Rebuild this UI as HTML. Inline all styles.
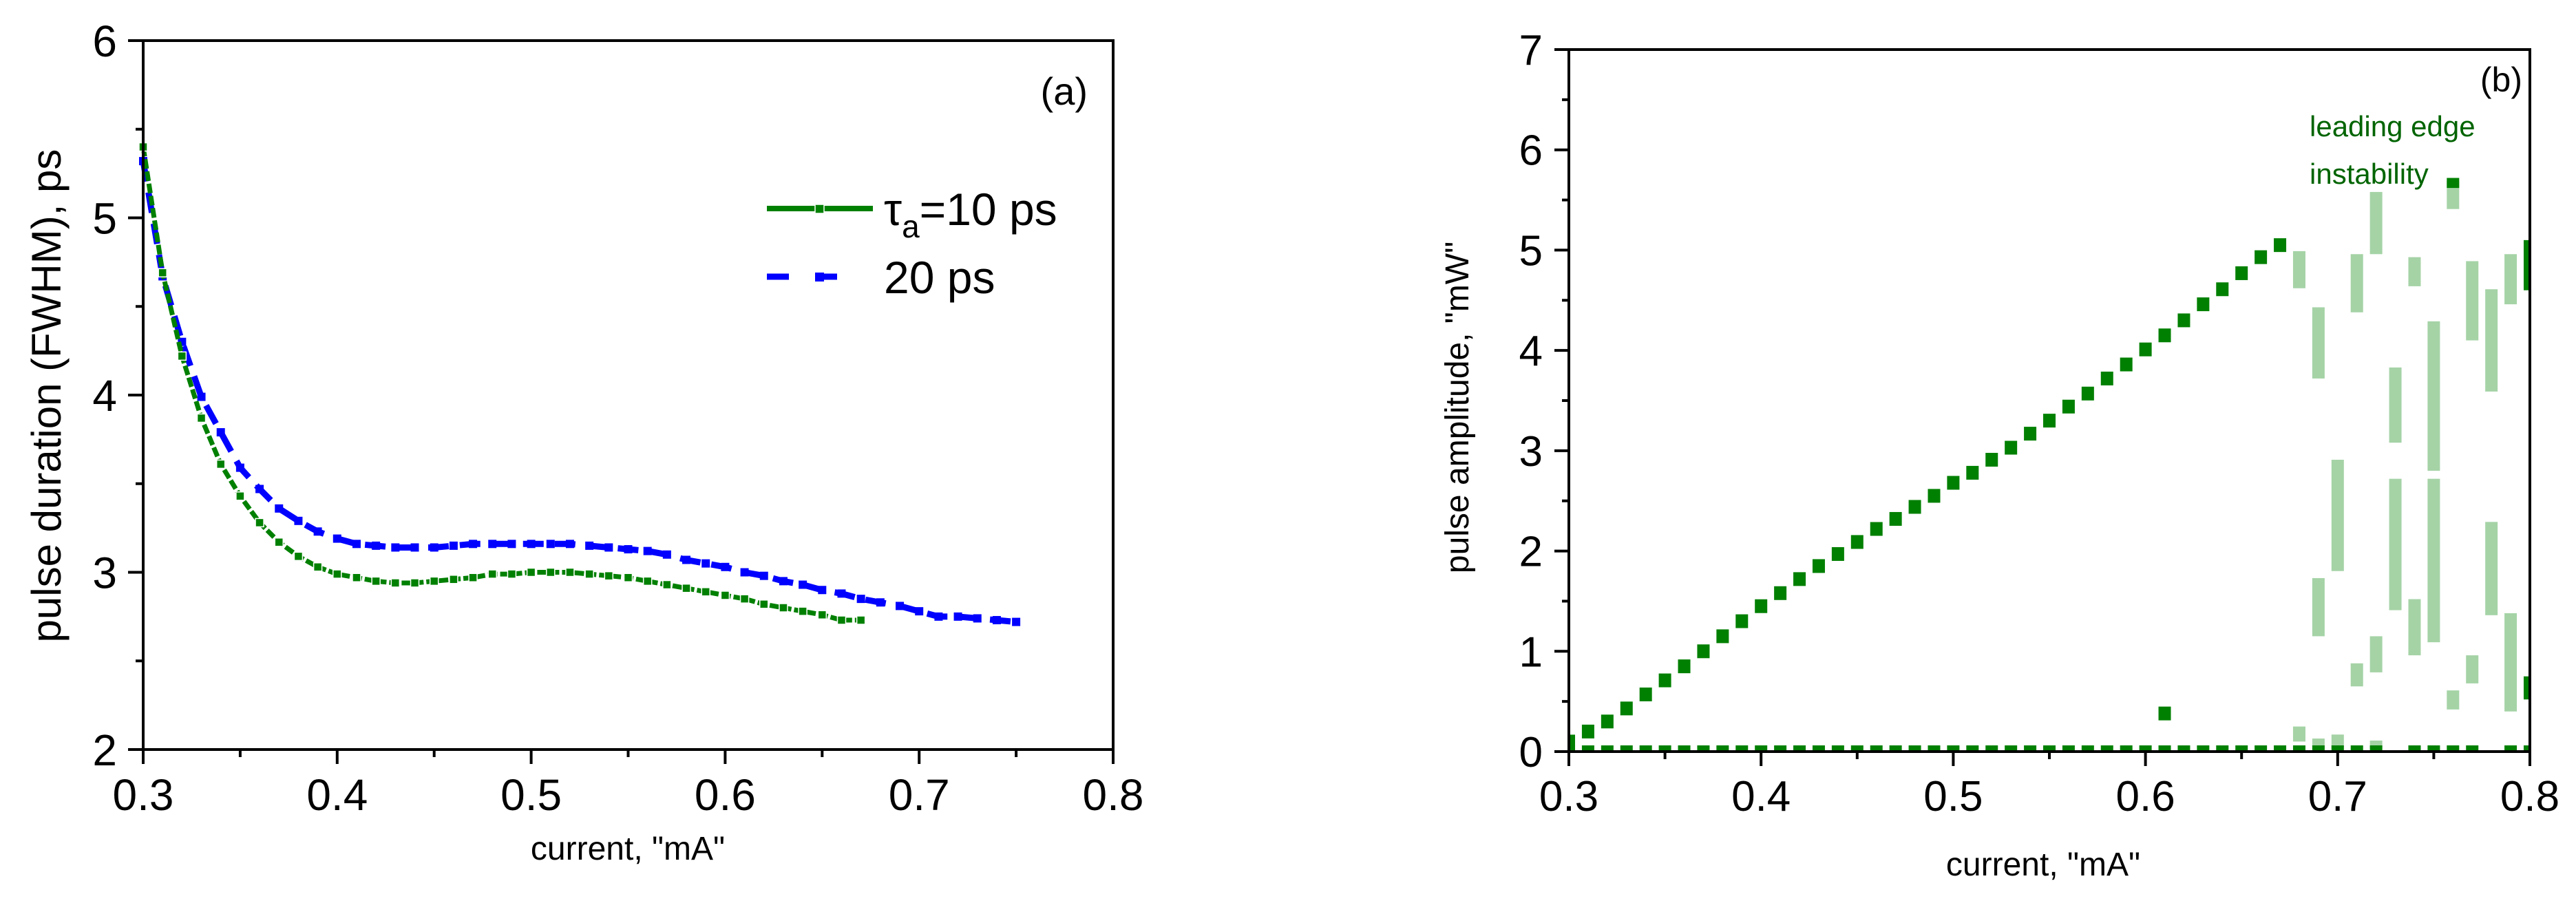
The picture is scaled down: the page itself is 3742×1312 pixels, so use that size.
<!DOCTYPE html>
<html><head><meta charset="utf-8"><style>
html,body{margin:0;padding:0;background:#fff;}
svg{display:block;font-family:"Liberation Sans",Arial,sans-serif;}
</style></head><body>
<svg id="fig" width="3742" height="1312" viewBox="0 0 3742 1312" xmlns="http://www.w3.org/2000/svg">
<rect width="3742" height="1312" fill="#fff"/>
<g id="pa"></g>
<g id="pb"></g>
</svg>
<script>
// ---- Panel (a) data ----
const aX10 = [0.30,0.31,0.32,0.33,0.34,0.35,0.36,0.37,0.38,0.39,0.40,0.41,0.42,0.43,0.44,0.45,0.46,0.47,0.48,0.49,0.50,0.51,0.52,0.53,0.54,0.55,0.56,0.57,0.58,0.59,0.60,0.61,0.62,0.63,0.64,0.65,0.66,0.67];
const aY10 = [5.40,4.69,4.22,3.87,3.61,3.43,3.28,3.17,3.09,3.03,2.99,2.97,2.95,2.94,2.94,2.95,2.96,2.97,2.99,2.99,3.00,3.00,3.00,2.99,2.98,2.97,2.95,2.93,2.91,2.89,2.87,2.85,2.82,2.80,2.78,2.76,2.73,2.73];
const aX20 = [0.30,0.31,0.32,0.33,0.34,0.35,0.36,0.37,0.38,0.39,0.40,0.41,0.42,0.43,0.44,0.45,0.46,0.47,0.48,0.49,0.50,0.51,0.52,0.53,0.54,0.55,0.56,0.57,0.58,0.59,0.60,0.61,0.62,0.63,0.64,0.65,0.66,0.67,0.68,0.69,0.70,0.71,0.72,0.73,0.74,0.75];
const aY20 = [5.32,4.67,4.30,3.99,3.79,3.59,3.47,3.36,3.29,3.23,3.19,3.16,3.15,3.14,3.14,3.14,3.15,3.16,3.16,3.16,3.16,3.16,3.16,3.15,3.14,3.13,3.12,3.10,3.07,3.05,3.03,3.00,2.98,2.95,2.93,2.90,2.88,2.85,2.83,2.81,2.78,2.75,2.75,2.74,2.73,2.72];
const aXTicks = ["0.3","0.4","0.5","0.6","0.7","0.8"];
const aYTicks = ["2","3","4","5","6"];
// ---- Panel (b) data ----
const bX = [0.31,0.32,0.33,0.34,0.35,0.36,0.37,0.38,0.39,0.40,0.41,0.42,0.43,0.44,0.45,0.46,0.47,0.48,0.49,0.50,0.51,0.52,0.53,0.54,0.55,0.56,0.57,0.58,0.59,0.60,0.61,0.62,0.63,0.64,0.65,0.66,0.67];
const bY = [0.20,0.30,0.43,0.57,0.71,0.85,1.00,1.15,1.30,1.45,1.58,1.72,1.85,1.97,2.09,2.22,2.32,2.44,2.55,2.68,2.78,2.91,3.03,3.17,3.30,3.44,3.57,3.72,3.86,4.01,4.15,4.30,4.46,4.61,4.77,4.93,5.05];
const bExtraX = [0.61,0.30];
const bExtraY = [0.38,0.10];
const bBaseX = [0.30,0.31,0.32,0.33,0.34,0.35,0.36,0.37,0.38,0.39,0.40,0.41,0.42,0.43,0.44,0.45,0.46,0.47,0.48,0.49,0.50,0.51,0.52,0.53,0.54,0.55,0.56,0.57,0.58,0.59,0.60,0.61,0.62,0.63,0.64,0.65,0.66,0.67,0.68,0.69,0.70,0.71,0.72,0.74,0.75,0.76,0.77,0.79,0.80];
const instX =   [0.68,0.68,0.69,0.69,0.69,0.70,0.70,0.71,0.71,0.72,0.72,0.72,0.73,0.73,0.74,0.74,0.75,0.75,0.76,0.76,0.77,0.77,0.78,0.78,0.79,0.79];
const instLo =  [4.62,0.10,3.72,1.15,0.03,1.80,0.03,4.38,0.65,4.96,0.79,0.03,3.08,1.41,4.64,0.96,2.80,1.09,5.41,0.42,4.10,0.68,3.59,1.36,4.46,0.40];
const instHi =  [4.99,0.25,4.43,1.73,0.13,2.91,0.17,4.96,0.88,5.58,1.15,0.11,3.83,2.72,4.93,1.52,4.29,2.72,5.69,0.61,4.89,0.96,4.61,2.29,4.96,1.38];
const darkBarX = [0.80,0.80,0.76];
const darkBarLo = [4.60,0.52,5.62];
const darkBarHi = [5.10,0.75,5.72];
const bXTicks = ["0.3","0.4","0.5","0.6","0.7","0.8"];
const bYTicks = ["0","1","2","3","4","5","6","7"];

const NS = "http://www.w3.org/2000/svg";
function mk(parent, tag, attrs, text){
  const e = document.createElementNS(NS, tag);
  for (const k in attrs) e.setAttribute(k, attrs[k]);
  if (text !== undefined) e.textContent = text;
  parent.appendChild(e);
  return e;
}

// ---------- Panel A ----------
const pa = document.getElementById('pa');
const A = {l:208, r:1617, t:59, b:1089, x0:0.3, x1:0.8, y0:2, y1:6};
const ax = v => A.l + (v - A.x0) / (A.x1 - A.x0) * (A.r - A.l);
const ay = v => A.b - (v - A.y0) / (A.y1 - A.y0) * (A.b - A.t);

// series 20 ps (blue, dashed)
let d = aX20.map((x,i)=>(i?'L':'M')+ax(x).toFixed(1)+','+ay(aY20[i]).toFixed(1)).join('');
let ln = mk(pa,'path',{d:d, fill:'none', stroke:'#0000ff', 'stroke-width':9, 'stroke-dasharray':'30 16'});


aX20.forEach((x,i)=>{
  const m = mk(pa,'rect',{x:ax(x)-6, y:ay(aY20[i])-6, width:12, height:12, fill:'#0000ff'});
  
  
});
// series 10 ps (green)
d = aX10.map((x,i)=>(i?'L':'M')+ax(x).toFixed(1)+','+ay(aY10[i]).toFixed(1)).join('');
ln = mk(pa,'path',{d:d, fill:'none', stroke:'#008000', 'stroke-width':7, 'stroke-dasharray':'14 4'});


aX10.forEach((x,i)=>{
  const m = mk(pa,'rect',{x:ax(x)-6, y:ay(aY10[i])-6, width:12, height:12, fill:'#008000', stroke:'#fff', 'stroke-width':1.5});
  
  
});

// frame
const fa = mk(pa,'rect',{x:A.l, y:A.t, width:A.r-A.l, height:A.b-A.t, fill:'none', stroke:'#000', 'stroke-width':4});


// x ticks
aXTicks.forEach(t=>{
  const v = parseFloat(t), x = ax(v);
  mk(pa,'line',{x1:x,y1:A.b,x2:x,y2:A.b+21,stroke:'#000','stroke-width':4});
  const lb = mk(pa,'text',{x:x, y:1177, 'font-size':64, 'text-anchor':'middle'}, t);
  
  
  if (v < A.x1) { const xm = ax(v+0.05); mk(pa,'line',{x1:xm,y1:A.b,x2:xm,y2:A.b+11,stroke:'#000','stroke-width':4}); }
});
aYTicks.forEach(t=>{
  const v = parseFloat(t), y = ay(v);
  mk(pa,'line',{x1:A.l-22,y1:y,x2:A.l,y2:y,stroke:'#000','stroke-width':4});
  const lb = mk(pa,'text',{x:170, y:y+23, 'font-size':64, 'text-anchor':'end'}, t);
  
  
  if (v < A.y1) { const ym = ay(v+0.5); mk(pa,'line',{x1:A.l-11,y1:ym,x2:A.l,y2:ym,stroke:'#000','stroke-width':4}); }
});
</script>
<script>
// static labels panel A
(function(){
  const pa = document.getElementById('pa');
  const NS = "http://www.w3.org/2000/svg";
  pa.insertAdjacentHTML('beforeend',
   '<text x="0" y="0" font-size="60" text-anchor="middle" transform="translate(88,575) rotate(-90)">pulse duration (FWHM), ps</text>'+
   '<text x="912" y="1249" font-size="48" text-anchor="middle">current, "mA"</text>'+
   '<text x="1580" y="152" font-size="56" text-anchor="end">(a)</text>'+
   '<g>'+
     '<line x1="1114" y1="303" x2="1268" y2="303" stroke="#008000" stroke-width="8"/>'+
     '<rect x="1184" y="297" width="13" height="13" fill="#008000" stroke="#fff" stroke-width="1.5"/>'+
     '<text x="1284" y="327" font-size="66">τ<tspan font-size="46" dy="18">a</tspan><tspan dy="-18">=10 ps</tspan></text>'+
     '<line x1="1114" y1="402" x2="1231" y2="402" stroke="#0000ff" stroke-width="9" stroke-dasharray="32 38"/>'+
     '<rect x="1184" y="396" width="13" height="13" fill="#0000ff"/>'+
     '<text x="1284" y="426" font-size="66">20 ps</text>'+
   '</g>');
})();

// ---------- Panel B ----------
const pb = document.getElementById('pb');
const B = {l:2279, r:3675, t:72, b:1092, x0:0.3, x1:0.8, y0:0, y1:7};
const bx = v => B.l + (v - B.x0) / (B.x1 - B.x0) * (B.r - B.l);
const by = v => B.b - (v - B.y0) / (B.y1 - B.y0) * (B.b - B.t);
mk(pb,'defs',{}).innerHTML = '<clipPath id="clipb"><rect x="'+B.l+'" y="'+B.t+'" width="'+(B.r-B.l)+'" height="'+(B.b-B.t)+'"/></clipPath>';
const gb = mk(pb,'g',{'clip-path':'url(#clipb)'});


instX.forEach((x,i)=>{
  const y1 = by(instHi[i]), y2 = by(instLo[i]);
  const r = mk(gb,'rect',{x:bx(x)-9, y:y1, width:18, height:Math.max(y2-y1,2), fill:'#a5d3a6'});
  
  
});
bBaseX.forEach(x=>{
  const r = mk(gb,'rect',{x:bx(x)-9, y:B.b-9, width:18, height:9, fill:'#008000'});
  
  
});
bX.forEach((x,i)=>{
  const r = mk(gb,'rect',{x:bx(x)-9, y:by(bY[i])-10, width:18, height:20, fill:'#008000'});
  
  
});
bExtraX.forEach((x,i)=>{
  const r = mk(gb,'rect',{x:bx(x)-9, y:by(bExtraY[i])-10, width:18, height:20, fill:'#008000'});
  
  
});
darkBarX.forEach((x,i)=>{
  const y1 = by(darkBarHi[i]), y2 = by(darkBarLo[i]);
  const r = mk(gb,'rect',{x:bx(x)-9, y:y1, width:18, height:y2-y1, fill:'#008000'});
  
  
});
const fb = mk(pb,'rect',{x:B.l, y:B.t, width:B.r-B.l, height:B.b-B.t, fill:'none', stroke:'#000', 'stroke-width':4});


bXTicks.forEach(t=>{
  const v = parseFloat(t), x = bx(v);
  mk(pb,'line',{x1:x,y1:B.b,x2:x,y2:B.b+21,stroke:'#000','stroke-width':4});
  const lb = mk(pb,'text',{x:x, y:1178, 'font-size':62, 'text-anchor':'middle'}, t);
  
  
  if (v < B.x1) { const xm = bx(v+0.05); mk(pb,'line',{x1:xm,y1:B.b,x2:xm,y2:B.b+11,stroke:'#000','stroke-width':4}); }
});
bYTicks.forEach(t=>{
  const v = parseFloat(t), y = by(v);
  mk(pb,'line',{x1:B.l-21,y1:y,x2:B.l,y2:y,stroke:'#000','stroke-width':4});
  const lb = mk(pb,'text',{x:2241, y:y+22, 'font-size':62, 'text-anchor':'end'}, t);
  
  
  if (v < B.y1) { const ym = by(v+0.5); mk(pb,'line',{x1:B.l-10,y1:ym,x2:B.l,y2:ym,stroke:'#000','stroke-width':4}); }
});
pb.insertAdjacentHTML('beforeend',
  '<text x="0" y="0" font-size="48" text-anchor="middle" transform="translate(2133,592) rotate(-90)">pulse amplitude, "mW"</text>'+
  '<text x="2968" y="1272" font-size="48" text-anchor="middle">current, "mA"</text>'+
  '<text x="3664" y="133" font-size="50" text-anchor="end">(b)</text>'+
  '<text x="3355" y="198" font-size="42" fill="#006400">leading edge</text>'+
  '<text x="3355" y="267" font-size="42" fill="#006400">instability</text>');
</script>
</body></html>
